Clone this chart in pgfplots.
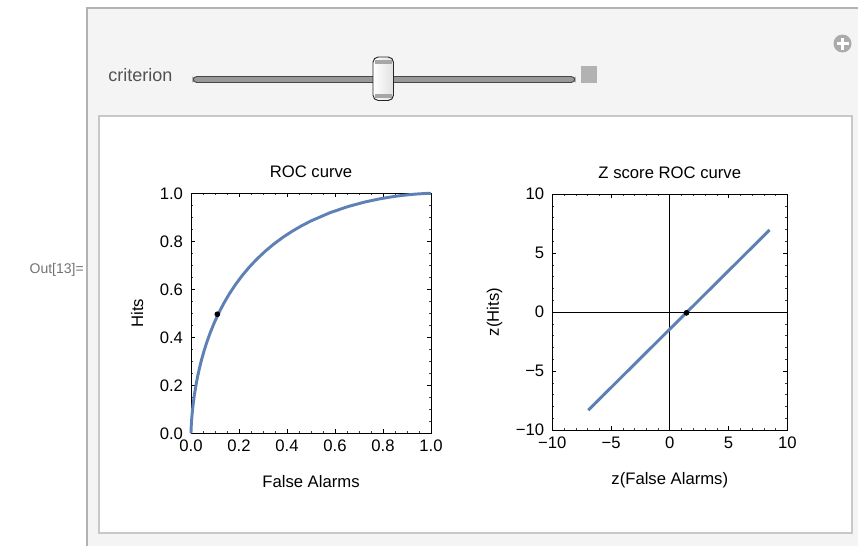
\documentclass[border=0pt]{standalone}
\usepackage{fontspec}
\setmainfont{Liberation Sans}
\usepackage{pgfplots}
\pgfplotsset{compat=1.18}
\definecolor{mblue}{RGB}{94,129,181}
\definecolor{outerbg}{RGB}{244,244,244}
\definecolor{outerbd}{RGB}{178,178,178}
\definecolor{innerbd}{RGB}{200,200,200}
\newcommand{\tfont}{\fontsize{12.5}{14}\selectfont}

\pgfplotsset{
  mmaframe/.style={
    scale only axis, clip=false,
    tick align=inside,
    major tick length=3pt, minor tick length=1.6pt,
    every tick/.style={black, line width=0.5pt},
    minor tick style={black!75, line width=0.45pt},
    axis line style={black, line width=0.6pt},
    tick label style={font=\tfont},
    yticklabel style={xshift=-2.5pt},
    xticklabel style={yshift=-1.5pt},
  }
}

\begin{document}
\begin{tikzpicture}
\begin{scope}[x=0.75pt,y=-0.75pt]
  \fill[white] (0,0) rectangle (858,546);
  \fill[outerbg] (86,7) rectangle (858,546);
  \draw[outerbd, line width=1.5pt] (87,546) -- (87,8) -- (858,8);
  \fill[white] (99,115.5) rectangle (851.5,533);
  \draw[innerbd, line width=1.5pt] (99,115.5) rectangle (851.5,533);
  % Out label
  \node[anchor=east, text=black!55, font=\fontsize{10.5}{12}\selectfont, inner sep=0pt] at (84,270) {Out[13]=};
  % criterion label
  \node[anchor=base west, text=black!68, font=\fontsize{13.5}{15}\selectfont, inner sep=0pt] at (108,81.5) {criterion};
  % slider track
  \draw[black!72, fill=black!40, line width=0.7pt, rounded corners=2.8] (193,76.5) rectangle (575,82.5);
  % thumb
  \shade[rounded corners=4, left color=white, right color=black!12] (373,57) rectangle (393.5,100.5);
  \fill[black!35] (375,59.5) rectangle (391.5,63.5);
  \fill[black!35] (375,94) rectangle (391.5,98);
  \draw[black!85, line width=0.7pt, rounded corners=4] (373,57) rectangle (393.5,100.5);
  % gray square
  \fill[black!30] (581,66) rectangle (597,83);
  % plus icon
  \fill[black!33] (842.5,43.5) circle (9);
  \fill[white] (836.5,42) rectangle (848.5,45);
  \fill[white] (841,37.5) rectangle (844,49.5);
  \coordinate (L) at (191,433.3);
  \coordinate (R) at (552.3,430);
\end{scope}

\begin{axis}[mmaframe, name=roc, at={(L)}, anchor=south west,
  width=180pt, height=180pt,
  xmin=0, xmax=1, ymin=0, ymax=1,
  xtick={0,0.2,0.4,0.6,0.8,1}, ytick={0,0.2,0.4,0.6,0.8,1},
  xticklabels={0.0,0.2,0.4,0.6,0.8,1.0},
  yticklabels={0.0,0.2,0.4,0.6,0.8,1.0},
  minor tick num=3]
  \addplot[mblue, line width=2.2pt] coordinates {
    (1.00000,1.00000) (0.99865,0.99999) (0.99379,0.99989) (0.97725,0.99931)
    (0.93319,0.99653) (0.88493,0.99180) (0.84134,0.98610) (0.78814,0.97725)
    (0.72575,0.96407) (0.65542,0.94520) (0.57926,0.91924) (0.50000,0.88493)
    (0.46017,0.86433) (0.42074,0.84134) (0.38209,0.81594) (0.34458,0.78814)
    (0.30854,0.75804) (0.27425,0.72575) (0.24196,0.69146) (0.21186,0.65542)
    (0.18406,0.61791) (0.15866,0.57926) (0.13567,0.53983) (0.11507,0.50000)
    (0.09680,0.46017) (0.08076,0.42074) (0.06681,0.38209) (0.05480,0.34458)
    (0.04457,0.30854) (0.03593,0.27425) (0.02872,0.24196) (0.02275,0.21186)
    (0.01390,0.15866) (0.00820,0.11507) (0.00466,0.08076) (0.00256,0.05480)
    (0.00135,0.03593) (0.00069,0.02275) (0.00023,0.01072) (0.00007,0.00466)
    (0.00001,0.00135) (0.00000,0.00000)
  };
  \addplot[only marks, mark=*, mark size=1.9pt, black] coordinates {(0.1097,0.496)};
  \node[anchor=base, font=\tfont, yshift=12pt] at (axis description cs:0.5,1) {ROC curve};
  \node[anchor=base, font=\tfont, yshift=-41pt] at (axis description cs:0.5,0) {False Alarms};
  \node[xshift=-36pt, rotate=90, anchor=base, font=\tfont] at (axis description cs:0,0.5) {Hits};
\end{axis}

\begin{axis}[mmaframe, name=zroc, at={(R)}, anchor=south west,
  width=176.25pt, height=177pt,
  xmin=-10, xmax=10, ymin=-10, ymax=10,
  xtick={-10,-5,0,5,10}, ytick={-10,-5,0,5,10},
  xticklabels={−10,−5,0,5,10},
  yticklabels={−10,−5,0,5,10},
  minor tick num=4]
  \draw[black, line width=0.5pt] (axis cs:0,-10) -- (axis cs:0,10);
  \draw[black, line width=0.5pt] (axis cs:-10,0) -- (axis cs:10,0);
  \addplot[mblue, line width=2.2pt] coordinates {(-6.94,-8.32) (8.49,6.95)};
  \addplot[only marks, mark=*, mark size=1.9pt, black] coordinates {(1.42,-0.07)};
  \node[anchor=base, font=\tfont, yshift=11.5pt] at (axis description cs:0.5,1) {Z score ROC curve};
  \node[anchor=base, font=\tfont, yshift=-41pt] at (axis description cs:0.5,0) {z(False Alarms)};
  \node[xshift=-40pt, rotate=90, anchor=base, font=\tfont] at (axis description cs:0,0.5) {z(Hits)};
\end{axis}

\pgfresetboundingbox
\useasboundingbox (0,0) rectangle (643.5pt,-409.5pt);
\end{tikzpicture}
\end{document}
